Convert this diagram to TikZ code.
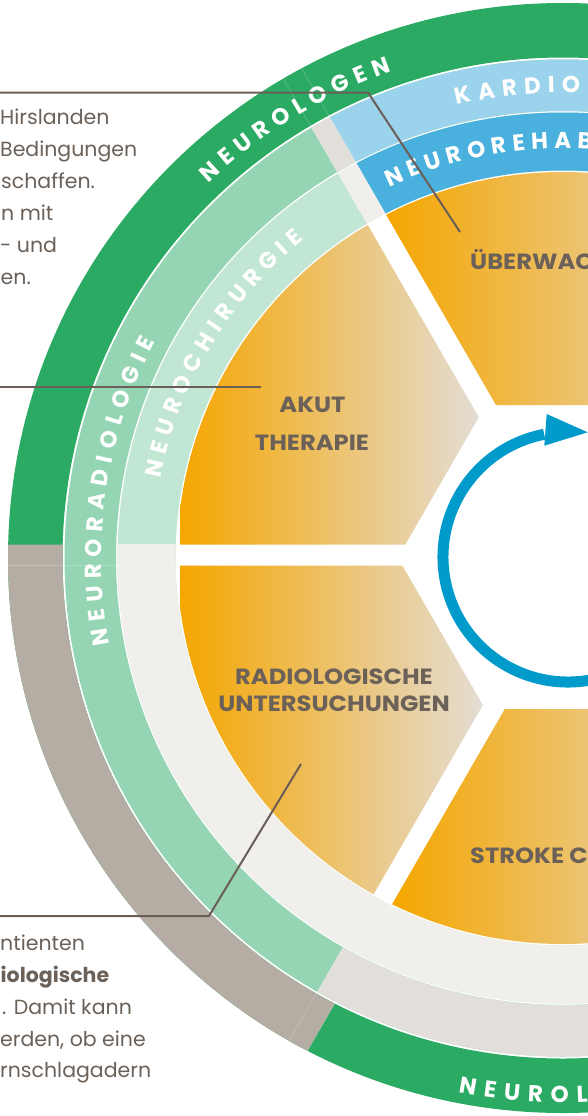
\documentclass[tikz,border=0pt]{standalone}
\usepackage{fontspec}
\setmainfont{Poppins}
\newfontfamily\lblfont{Poppins}[FakeStretch=1.1]
\usetikzlibrary{decorations.text,calc}
\definecolor{dgreen}{HTML}{2BAA64}
\definecolor{taupe}{HTML}{B5ACA3}
\definecolor{mgreen}{HTML}{95D5B3}
\definecolor{pgreen}{HTML}{C1E6D3}
\definecolor{lblue}{HTML}{9CD3EC}
\definecolor{mblue}{HTML}{4AB1DE}
\definecolor{sgrey}{HTML}{E2DFDA}
\definecolor{lgrey}{HTML}{F0EFEB}
\definecolor{orA}{HTML}{F5A600}
\definecolor{beA}{HTML}{E4DDD4}
\definecolor{txtc}{HTML}{6B6159}
\definecolor{linec}{HTML}{6B5E57}
\definecolor{arrowc}{HTML}{009BCB}
\newcommand\ringfont{\bfseries\fontsize{23}{23}\selectfont}
\begin{document}
\begin{tikzpicture}[x=1pt,y=-1pt,
  ringtext/.style={decorate,decoration={text along path,text={|\ringfont|#1},text align={fit to path},text color=white}},
  faint/.style={draw=white,draw opacity=0.22,line width=0.7pt},
  leader/.style={draw=linec,line width=2pt},
  seglabel/.style={inner sep=0pt,text=txtc,font=\lblfont\bfseries\fontsize{22}{22}\selectfont},
  bodytext/.style={inner sep=0pt,anchor=base west,text=txtc,font=\fontsize{20.5}{20.5}\selectfont}]
\useasboundingbox (0,0) rectangle (588,1116);
\fill[white] (0,0) rectangle (588,1116);
\clip (0,0) rectangle (588,1116);
\coordinate (C) at (563,558);
\coordinate (C2) at (568,557);
% ---------- outer ring
\fill[dgreen,even odd rule] (C) circle[radius=555] (C) circle[radius=500.5];
\begin{scope}
  \clip (-100,544.5) -- (599.76,544.5) -- (190.09,1254.05) -- (-100,1254.05) -- cycle;
  \fill[taupe,even odd rule] (C) circle[radius=555] (C) circle[radius=500.5];
\end{scope}
% ---------- ring 2
\fill[mgreen,even odd rule] (C) circle[radius=498.5] (C) circle[radius=447];
\begin{scope}
  \clip (580.09,550.75) -- (180.09,-142.05) -- (900,-142.05) -- (900,550.75) -- cycle;
  \fill[lblue,even odd rule] (C) circle[radius=498.5] (C) circle[radius=447];
\end{scope}
\begin{scope}
  \clip (580.09,550.75) -- (180.09,-142.05) -- (161.91,-131.55) -- (561.91,561.25) -- cycle;
  \fill[sgrey,even odd rule] (C) circle[radius=498.5] (C) circle[radius=447];
\end{scope}
\begin{scope}
  \clip (571.91,550.75) -- (171.91,1243.55) -- (171.91,1300) -- (900,1300) -- (900,550.75) -- cycle;
  \fill[sgrey,even odd rule] (C) circle[radius=498.5] (C) circle[radius=447];
\end{scope}
% ---------- ring 3
\fill[pgreen,even odd rule] (C) circle[radius=445.5] (C) circle[radius=387.5];
\begin{scope}
  \clip (580.09,550.75) -- (180.09,-142.05) -- (900,-142.05) -- (900,550.75) -- cycle;
  \fill[mblue,even odd rule] (C) circle[radius=445.5] (C) circle[radius=387.5];
\end{scope}
\begin{scope}
  \clip (580.09,550.75) -- (180.09,-142.05) -- (161.91,-131.55) -- (561.91,561.25) -- cycle;
  \fill[lgrey,even odd rule] (C) circle[radius=445.5] (C) circle[radius=387.5];
\end{scope}
\begin{scope}
  \clip (-100,544.5) rectangle (900,1300);
  \fill[lgrey,even odd rule] (C) circle[radius=445.5] (C) circle[radius=387.5];
\end{scope}
% ---------- faint segment lines
\begin{scope}
  \clip (C) circle[radius=555];
  \draw[faint] (580.09,550.75) -- (180.09,-142.05);
  \draw[faint] (561.91,561.25) -- (161.91,-131.55);
  \draw[faint] (-100,565.5) -- (900,565.5);
  \draw[faint] (571.91,550.75) -- (171.91,1243.55);
  \draw[faint] (590.09,561.25) -- (190.09,1254.05);
\end{scope}
% ---------- orange segments
\begin{scope}
  \clip (C) circle[radius=386];
  \begin{scope}
    \clip (-100,544.5) -- (405.3,544.5) -- (478.76,417.25) -- (161.91,-131.55) -- (-100,-131.55) -- cycle;
    \shade[left color=orA,right color=beA] (180,150) rectangle (479,560);
  \end{scope}
  \begin{scope}
    \clip (495.94,405) -- (180.09,-142.05) -- (900,-142.05) -- (900,405) -- cycle;
    \shade[left color=orA,right color=beA] (385,150) rectangle (763,410);
  \end{scope}
  \begin{scope}
    \clip (-100,565.5) -- (402.3,565.5) -- (482.84,705.02) -- (171.91,1243.55) -- (-100,1243.55) -- cycle;
    \shade[left color=orA,right color=beA] (180,560) rectangle (483,960);
  \end{scope}
  \begin{scope}
    \clip (504.79,709) -- (190.09,1254.05) -- (900,1254.05) -- (900,709) -- cycle;
    \shade[left color=orA,right color=beA] (392,700) rectangle (756,960);
  \end{scope}
\end{scope}
% ---------- ring labels
\path[ringtext=NEUROLOGEN] ($(C)+(226.6:516)$) arc[start angle=226.6,end angle=250.6,radius=516];
\path[ringtext=NEURORADIOLOGIE] ($(C)+(169.2:461.5)$) arc[start angle=169.2,end angle=208.0,radius=461.5];
\path[ringtext=NEUROCHIRURGIE] ($(C)+(191.2:410.5)$) arc[start angle=191.2,end angle=230.9,radius=410.5];
\path[ringtext=KARDIOL] ($(C)+(256.8:465.5)$) arc[start angle=256.8,end angle=274.3,radius=465.5];
\path[ringtext=NEUROREHAB] ($(C)+(244.9:409.5)$) arc[start angle=244.9,end angle=274.1,radius=409.5];
\path[ringtext=NEUROL] ($(C)+(101.1:544.5)$) arc[start angle=101.1,end angle=87.4,radius=544.5];
% ---------- blue cycle arrow
\draw[arrowc,line width=11pt] ($(C2)+(259:125)$) arc[start angle=259,end angle=30,radius=125];
\coordinate (ah1) at (546.7,414);
\coordinate (ah2) at (544.3,445.7);
\coordinate (ah3) at (587.7,432.3);
\fill[arrowc] (ah1) -- (ah2) -- (ah3) -- cycle;
% ---------- segment labels
\node[seglabel,anchor=base west] (ueb) at (470,269) {ÜBERWAC};
\node[seglabel,anchor=base] (akut1) at (312.5,412) {AKUT};
\node[seglabel,anchor=base] (akut2) at (312,450) {THERAPIE};
\node[seglabel,anchor=base] (rad1) at (334,684) {RADIOLOGISCHE};
\node[seglabel,anchor=base] (rad2) at (334,711) {UNTERSUCHUNGEN};
\node[seglabel,anchor=base west] (stroke) at (470,863) {STROKE C};
% ---------- leader lines
\coordinate (l1a) at (0,92.5);
\coordinate (l1b) at (368,92.5);
\coordinate (l1c) at (460,232);
\coordinate (l2a) at (0,387);
\coordinate (l2b) at (261,387);
\coordinate (l3a) at (0,916);
\coordinate (l3b) at (209,916);
\coordinate (l3c) at (301,764);
\draw[leader] (l1a) -- (l1b) -- (l1c);
\draw[leader] (l2a) -- (l2b);
\draw[leader] (l3a) -- (l3b) -- (l3c);
% ---------- body text
\node[bodytext] (t1) at (0,124) {Hirslanden};
\node[bodytext] (t2) at (0,156) {Bedingungen};
\node[bodytext] (t3) at (1,188) {schaffen.};
\node[bodytext] (t4) at (1,220) {n mit};
\node[bodytext] (t5) at (0,252) {- und};
\node[bodytext] (t6) at (0.5,284) {en.};
\node[bodytext] (b1) at (0,950) {ntienten};
\node[bodytext,font=\bfseries\fontsize{20.5}{20.5}\selectfont] (b2) at (0.5,982) {iologische};
\node[bodytext] (b3) at (2,1014) {. Damit kann};
\node[bodytext] (b4) at (0,1046) {erden, ob eine};
\node[bodytext] (b5) at (0,1077) {rnschlagadern};
\end{tikzpicture}
\end{document}
